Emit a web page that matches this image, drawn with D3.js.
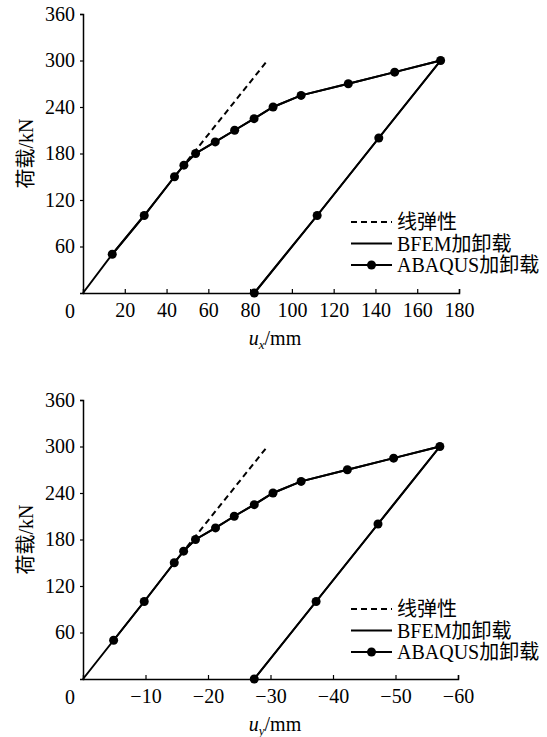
<!DOCTYPE html>
<html>
<head>
<script src="https://cdn.jsdelivr.net/npm/d3@7"></script>
</head>
<body style="margin:0; background:#fff">
<script>
// load levels (kN), shared by both plots
var loadUp = [0, 50, 100, 150, 165, 180, 195, 210, 225, 240, 255, 270, 285, 300];
var loadDown = [300, 200, 100, 0];
var elasticLoad = [150, 301];

// top plot: u_x (mm)
var uxUp = [0, 14.0, 29.3, 43.8, 48.3, 53.9, 63.3, 72.6, 81.9, 91.0, 104.4, 127.0, 149.2, 171.2];
var uxDown = [171.2, 141.6, 112.1, 82.0];
var uxElastic = [43.8, 88.6];
var uxTicks = [20, 40, 60, 80, 100, 120, 140, 160, 180];

// bottom plot: u_y (mm)
var uyUp = [0, -4.9, -9.8, -14.6, -16.1, -18.0, -21.2, -24.2, -27.4, -30.4, -34.9, -42.3, -49.7, -57.1];
var uyDown = [-57.1, -47.2, -37.3, -27.4];
var uyElastic = [-14.6, -29.6];
var uyTicks = [-10, -20, -30, -40, -50, -60];

var loadTicks = [60, 120, 180, 240, 300, 360];
var legendNames = ["线弹性", "BFEM加卸载", "ABAQUS加卸载"];

var FONT = "'Liberation Serif', 'Times New Roman', 'Noto Sans CJK SC', serif";

var svg = d3.select("body").append("svg").attr("width", 547).attr("height", 737);

function zip(xs, ys) {
    return xs.map(function (v, i) { return {x: v, y: ys[i]}; });
}

function drawPlot(opt) {
    var x = d3.scaleLinear().domain(opt.xDomain).range([83, opt.xEnd]);
    var y = d3.scaleLinear().domain([0, 360]).range([opt.y0, opt.y0 - 279]);
    var g = svg.append("g");

    var line = d3.line().x(function (d) { return x(d.x); }).y(function (d) { return y(d.y); });

    // axes
    var ax = g.append("g").attr("transform", "translate(0," + y(0) + ")")
        .call(d3.axisBottom(x).tickValues(opt.xTicks).tickSize(-4).tickPadding(10));
    var ay = g.append("g").attr("transform", "translate(83,0)")
        .call(d3.axisLeft(y).tickValues(loadTicks).tickSize(3).tickPadding(5));
    [ax, ay].forEach(function (a) {
        a.select(".domain").attr("stroke-width", 1.5);
        a.selectAll("line").attr("stroke-width", 1.2);
    });
    ax.selectAll("text").attr("dy", "0.71em");
    g.append("text").attr("x", 70).attr("y", y(0) + 25).attr("text-anchor", "middle").text("0");

    // series
    g.append("path").datum(zip(opt.elX, elasticLoad))
        .attr("fill", "none").attr("stroke", "#000").attr("stroke-width", 2)
        .attr("stroke-dasharray", "6,4").attr("d", line);
    g.append("path").datum(zip(opt.upX, loadUp).concat(zip(opt.downX, loadDown).slice(1)))
        .attr("fill", "none").attr("stroke", "#000").attr("stroke-width", 2).attr("d", line);
    g.append("path").datum(zip(opt.upX, loadUp).slice(1).concat(zip(opt.downX, loadDown).slice(1)))
        .attr("fill", "none").attr("stroke", "#000").attr("stroke-width", 2).attr("d", line);
    g.selectAll("circle.pt")
        .data(zip(opt.upX, loadUp).slice(1).concat(zip(opt.downX, loadDown).slice(1)))
        .enter().append("circle").attr("class", "pt")
        .attr("cx", function (d) { return x(d.x); })
        .attr("cy", function (d) { return y(d.y); })
        .attr("r", 4.5).attr("fill", "#000");

    // axis titles
    g.append("text").attr("transform", "translate(33," + y(180) + ") rotate(-90)")
        .attr("text-anchor", "middle").text("荷载/kN");
    var xt = g.append("text").attr("x", 275).attr("y", y(0) + 52).attr("text-anchor", "middle");
    xt.append("tspan").style("font-style", "italic").text("u");
    xt.append("tspan").style("font-style", "italic").attr("dy", 4).style("font-size", "13px").text(opt.sub);
    xt.append("tspan").attr("dy", -4).text("/mm");

    // legend
    var lg = g.selectAll("g.lg").data(legendNames).enter().append("g")
        .attr("transform", function (d, i) { return "translate(351," + (opt.legY + i * 21.5) + ")"; });
    lg.append("line").attr("x1", 0).attr("x2", 41).attr("stroke", "#000").attr("stroke-width", 2)
        .attr("stroke-dasharray", function (d, i) { return i === 0 ? "6,4" : null; });
    lg.filter(function (d, i) { return i === 2; }).append("circle").attr("cx", 20.5).attr("r", 4.5);
    lg.append("text").attr("x", 46).attr("dy", "0.35em").text(function (d) { return d; });

    g.selectAll("text").style("font-family", FONT).style("fill", "#000")
        .filter(function () { return !this.style.fontSize; }).style("font-size", "20px");
}

drawPlot({xDomain: [0, 180], xEnd: 459, y0: 293, xTicks: uxTicks, upX: uxUp, downX: uxDown,
    elX: uxElastic, sub: "x", legY: 222});
drawPlot({xDomain: [0, -60], xEnd: 458, y0: 679, xTicks: uyTicks, upX: uyUp, downX: uyDown,
    elX: uyElastic, sub: "y", legY: 609});
</script>
</body>
</html>
